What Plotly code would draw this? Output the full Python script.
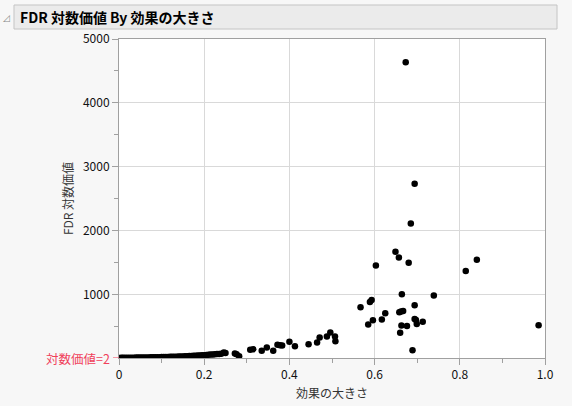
import plotly.graph_objects as go

# Effect size (x) and FDR LogWorth (y)
effect_size = [
    0.002, 0.006, 0.010, 0.015, 0.020, 0.025, 0.030, 0.035, 0.040, 0.045, 0.050, 0.055,
    0.060, 0.065, 0.070, 0.075, 0.080, 0.085, 0.090, 0.095, 0.100, 0.105, 0.110, 0.115,
    0.120, 0.125, 0.130, 0.135, 0.140, 0.145, 0.150, 0.155, 0.160, 0.165, 0.170, 0.175,
    0.180, 0.185, 0.190, 0.195, 0.200, 0.205, 0.210, 0.215, 0.220, 0.225, 0.230, 0.235,
    0.240, 0.246, 0.250, 0.272, 0.276, 0.282,
    0.308, 0.315, 0.335, 0.347, 0.362, 0.372, 0.378, 0.383, 0.400, 0.413,
    0.445, 0.465, 0.471, 0.488, 0.496, 0.507, 0.508,
    0.567, 0.585, 0.589, 0.593, 0.596, 0.603, 0.617, 0.625,
    0.649, 0.657, 0.658, 0.660, 0.662, 0.663, 0.664, 0.667, 0.673, 0.676, 0.680,
    0.685, 0.689, 0.694, 0.694, 0.694, 0.697, 0.699, 0.713, 0.739,
    0.814, 0.840, 0.985,
]
fdr_logworth = [
    3, 4, 5, 5, 6, 6, 7, 7, 8, 8, 9, 9,
    10, 11, 11, 12, 13, 13, 14, 15, 16, 17, 18, 19,
    20, 21, 22, 23, 24, 26, 27, 28, 30, 32, 34, 36,
    38, 40, 42, 45, 47, 50, 53, 56, 58, 60, 63, 66,
    70, 89, 80, 73, 60, 31,
    130, 140, 115, 167, 114, 208, 203, 198, 255, 188,
    219, 245, 323, 339, 401, 339, 266,
    797, 526, 880, 911, 594, 1453, 604, 703,
    1667, 1578, 719, 396, 730, 510, 1000, 740, 4636, 505, 1495,
    2109, 125, 2734, 828, 614, 599, 536, 568, 980,
    1364, 1542, 516,
]

x_ticks = [0, 0.2, 0.4, 0.6, 0.8, 1.0]
x_tick_text = ["0", "0.2", "0.4", "0.6", "0.8", "1.0"]
y_ticks = [1000, 2000, 3000, 4000, 5000]
y_tick_text = ["1000", "2000", "3000", "4000", "5000"]

FONT = "Noto Sans CJK JP"

fig = go.Figure()
fig.add_trace(go.Scatter(
    x=effect_size, y=fdr_logworth, mode="markers",
    marker=dict(color="black", size=6.5, line=dict(width=0)),
    hoverinfo="x+y", showlegend=False,
))

fig.update_layout(
    width=572, height=406,
    margin=dict(l=119, r=27, t=39, b=48, autoexpand=False),
    paper_bgcolor="#f7f7f7",
    plot_bgcolor="white",
    font=dict(family=FONT, size=12, color="#222222"),
    xaxis=dict(
        range=[0, 1], tickvals=x_ticks, ticktext=x_tick_text, automargin=False,
        showgrid=True, gridcolor="#d9d9d9", gridwidth=1,
        showline=True, linecolor="#a0a0a0", linewidth=1, mirror=True,
        ticks="outside", ticklen=6, tickcolor="#a0a0a0",
        minor=dict(ticks="outside", ticklen=4, tickcolor="#a0a0a0",
                   tickvals=[0.1, 0.3, 0.5, 0.7, 0.9], showgrid=False),
        zeroline=False,
        title=dict(text="効果の大きさ", font=dict(size=12, color="#333333"), standoff=8),
        tickfont=dict(size=12, color="#111111"),
    ),
    yaxis=dict(
        range=[2, 5000], tickvals=y_ticks, ticktext=y_tick_text, automargin=False,
        showgrid=True, gridcolor="#d9d9d9", gridwidth=1,
        showline=True, linecolor="#a0a0a0", linewidth=1, mirror=True,
        ticks="outside", ticklen=6, tickcolor="#a0a0a0",
        minor=dict(ticks="outside", ticklen=4, tickcolor="#a0a0a0",
                   tickvals=[500, 1500, 2500, 3500, 4500], showgrid=False),
        zeroline=False,
        title=dict(text="FDR 対数価値", font=dict(size=12, color="#333333"), standoff=6),
        tickfont=dict(size=12, color="#111111"),
    ),
)

# Header bar
fig.add_shape(type="rect", xref="paper", yref="paper",
              x0=-0.2465, x1=1.0282, y0=1.0313, y1=1.1066,
              fillcolor="#ebebeb", line=dict(color="#c4c4c4", width=1), layer="below")
fig.add_annotation(xref="paper", yref="paper", x=-0.238, y=1.069,
                   xanchor="left", yanchor="middle", showarrow=False,
                   text="<b>FDR 対数価値 By 効果の大きさ</b>",
                   font=dict(family=FONT, size=14, color="black"))
fig.add_annotation(xref="paper", yref="paper", x=-0.252, y=1.066,
                   xanchor="right", yanchor="middle", showarrow=False,
                   text="◿", font=dict(family="DejaVu Sans", size=9, color="#888888"))

# Reference label at LogWorth = 2
fig.add_shape(type="line", xref="paper", yref="y",
              x0=-0.0141, x1=0, y0=2, y1=2,
              line=dict(color="#f0405a", width=1))
fig.add_annotation(xref="paper", yref="y", x=-0.017, y=2,
                   xanchor="right", yanchor="middle", showarrow=False,
                   text="対数価値=2", font=dict(family=FONT, size=12.5, color="#f0405a"))

fig.write_html("out.html", config={"displayModeBar": False},
               post_script="document.body.style.margin='0px';document.body.style.background='#f7f7f7';")
